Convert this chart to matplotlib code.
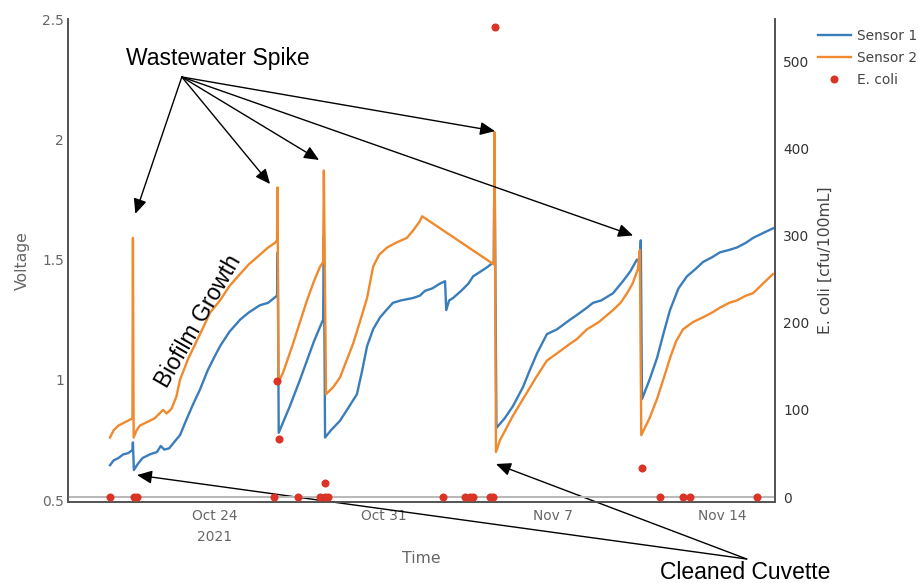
"""Sensor voltage vs. E. coli counts over the Oct/Nov 2021 deployment."""
import numpy as np
import pandas as pd
import matplotlib
matplotlib.use("Agg")
import matplotlib.pyplot as plt

T0 = pd.Timestamp("2021-10-24")

# days since Oct 24 2021 / voltage
s1_days = [-4.35, -4.2, -4.0, -3.8, -3.6, -3.42, -3.40, -3.36, -3.2, -3.0, -2.7, -2.4, -2.25, -2.1,
           -1.9, -1.7, -1.45, -1.16, -0.9, -0.62, -0.3, 0.0, 0.21, 0.6, 1.04, 1.4, 1.86, 2.2, 2.45,
           2.57, 2.60, 2.64, 3.1, 3.52, 3.81, 4.1, 4.35, 4.48, 4.51, 4.56, 4.8, 5.18, 5.5, 5.88,
           6.1, 6.30, 6.55, 6.84, 7.1, 7.37, 7.7, 7.95, 8.2, 8.49, 8.7, 9.0, 9.32, 9.53, 9.58,
           9.7, 9.86, 10.2, 10.5, 10.69, 11.0, 11.3, 11.55, 11.58, 11.66, 12.0, 12.34, 12.76,
           13.0, 13.34, 13.75, 14.17, 14.71, 15.0, 15.41, 15.66, 16.0, 16.49, 16.90, 17.2, 17.48,
           17.60, 17.64, 17.69, 18.0, 18.31, 18.6, 18.85, 19.2, 19.55, 19.9, 20.22, 20.6, 20.92,
           21.3, 21.62, 22.0, 22.29, 22.7, 23.12]
s1_volts = [0.645, 0.665, 0.675, 0.69, 0.695, 0.708, 0.74, 0.625, 0.65, 0.675, 0.69, 0.70, 0.725,
            0.71, 0.715, 0.74, 0.77, 0.84, 0.90, 0.96, 1.04, 1.10, 1.14, 1.20, 1.25, 1.28, 1.31,
            1.32, 1.34, 1.35, 1.53, 0.78, 0.89, 1.00, 1.08, 1.16, 1.22, 1.25, 1.60, 0.76, 0.79,
            0.83, 0.88, 0.94, 1.04, 1.14, 1.21, 1.26, 1.29, 1.32, 1.33, 1.335, 1.34, 1.35, 1.37,
            1.38, 1.40, 1.41, 1.29, 1.33, 1.34, 1.37, 1.40, 1.43, 1.45, 1.47, 1.49, 1.95, 0.80,
            0.84, 0.89, 0.97, 1.03, 1.11, 1.19, 1.21, 1.25, 1.27, 1.30, 1.32, 1.33, 1.36, 1.41,
            1.45, 1.50, 1.49, 1.58, 0.92, 1.00, 1.09, 1.20, 1.29, 1.38, 1.43, 1.46, 1.49, 1.51,
            1.53, 1.54, 1.55, 1.57, 1.59, 1.61, 1.63]

s2_days = [-4.35, -4.2, -4.0, -3.7, -3.42, -3.40, -3.37, -3.25, -3.11, -2.8, -2.5, -2.3, -2.15,
           -2.0, -1.8, -1.6, -1.45, -1.1, -0.62, -0.2, 0.21, 0.6, 1.04, 1.4, 1.86, 2.2, 2.49, 2.57,
           2.59, 2.63, 2.82, 3.2, 3.52, 3.81, 4.1, 4.35, 4.48, 4.51, 4.60, 4.9, 5.18, 5.72, 6.0,
           6.30, 6.55, 6.8, 7.13, 7.5, 7.95, 8.2, 8.49, 8.58, 11.55, 11.58, 11.64, 11.81, 12.34,
           12.76, 13.3, 13.75, 14.17, 14.71, 15.0, 15.41, 15.9, 16.49, 16.8, 17.07, 17.3, 17.52,
           17.60, 17.66, 18.0, 18.31, 18.6, 18.85, 19.1, 19.39, 19.8, 20.22, 20.6, 20.92, 21.3,
           21.62, 22.0, 22.29, 22.7, 23.12]
s2_volts = [0.76, 0.79, 0.81, 0.825, 0.84, 1.59, 0.76, 0.79, 0.81, 0.825, 0.84, 0.86, 0.875, 0.86,
            0.88, 0.93, 1.00, 1.09, 1.19, 1.28, 1.33, 1.39, 1.44, 1.48, 1.52, 1.55, 1.57, 1.58,
            1.80, 0.99, 1.03, 1.14, 1.24, 1.33, 1.41, 1.47, 1.49, 1.87, 0.94, 0.97, 1.01, 1.15,
            1.24, 1.34, 1.47, 1.52, 1.55, 1.57, 1.59, 1.62, 1.66, 1.68, 1.48, 2.03, 0.70, 0.75,
            0.85, 0.92, 1.01, 1.08, 1.11, 1.15, 1.17, 1.21, 1.24, 1.29, 1.32, 1.36, 1.40, 1.46,
            1.54, 0.77, 0.84, 0.92, 1.01, 1.09, 1.16, 1.21, 1.24, 1.26, 1.28, 1.30, 1.32, 1.33,
            1.35, 1.36, 1.40, 1.44]

# grab samples, cfu/100mL
ecoli_days = [-4.35, -3.36, -3.23, 2.44, 2.57, 2.65, 3.44, 4.35, 4.56, 4.56, 4.68, 9.44, 10.36,
              10.56, 10.69, 11.39, 11.52, 11.60, 17.69, 18.43, 19.39, 19.68, 22.45]
ecoli_cfu = [0, 0, 0, 0, 133, 67, 0, 0, 0, 16, 0, 0, 0, 0, 0, 0, 0, 540, 33, 0, 0, 0, 0]

tick_days = [0, 7, 14, 21]
tick_labels = ["Oct 24\n2021", "Oct 31", "Nov 7", "Nov 14"]


def to_dates(days):
    return T0 + pd.to_timedelta(np.asarray(days, dtype=float), unit="D")


BLUE = "#3a7dbb"
ORANGE = "#ef8a2e"
RED = "#db3326"
TICK_FS = 9.9
NOTE_FONT = dict(family="Liberation Sans", fontsize=16.5, color="black")

fig = plt.figure(figsize=(9.2, 5.83), dpi=100)
ax = fig.add_axes([0.0739, 0.1389, 0.7685, 0.8285])
ax2 = ax.twinx()

l1, = ax.plot(to_dates(s1_days), s1_volts, color=BLUE, lw=1.7, label="Sensor 1")
l2, = ax.plot(to_dates(s2_days), s2_volts, color=ORANGE, lw=1.7, label="Sensor 2")
ax2.axhline(0, color="#b8b8b8", lw=1.4, zorder=1)
l3, = ax2.plot(to_dates(ecoli_days), ecoli_cfu, "o", color=RED, ms=5.8, mec="none",
               label="E. coli", zorder=3)

ax.set_xlim(to_dates([-6.09])[0], to_dates([23.2])[0])
ax.set_ylim(0.492, 2.5)
ax2.set_ylim(-5.7, 549)
ax.set_yticks([0.5, 1, 1.5, 2, 2.5])
ax.set_yticklabels(["0.5", "1", "1.5", "2", "2.5"])
ax2.set_yticks([0, 100, 200, 300, 400, 500])
ax.set_xticks(to_dates(tick_days))
ax.set_xticklabels(tick_labels, linespacing=1.6)

for a in (ax, ax2):
    a.spines["top"].set_visible(False)
    for side in ("left", "right", "bottom"):
        a.spines[side].set_color("#555555")
        a.spines[side].set_linewidth(1.3)
ax.tick_params(axis="y", length=0, pad=3, labelsize=TICK_FS, labelcolor="#666666")
ax.tick_params(axis="x", length=0, pad=5, labelsize=TICK_FS, labelcolor="#666666")
ax2.tick_params(axis="y", length=0, pad=6, labelsize=TICK_FS, labelcolor="#333333")

ax.set_ylabel("Voltage", fontsize=11.3, color="#666666", labelpad=9)
ax.set_xlabel("Time", fontsize=11.3, color="#666666", labelpad=5)
ax2.set_ylabel("E. coli [cfu/100mL]", fontsize=11.3, color="#444444", labelpad=6)

fig.legend(handles=[l1, l2, l3], loc="upper left", bbox_to_anchor=(0.88, 0.965),
           frameon=False, fontsize=TICK_FS, handlelength=2.4, handletextpad=0.45,
           labelspacing=0.6, labelcolor="#444444", borderaxespad=0.2)

# annotations
arrow = dict(arrowstyle="-|>,head_length=0.9,head_width=0.4", mutation_scale=10,
             color="black", lw=1.0, shrinkA=0, shrinkB=0)
spike_tips = [(-3.3, 1.69), (2.28, 1.814), (4.31, 1.914), (11.6, 2.034), (17.32, 1.60)]
for d, v in spike_tips:
    ax.annotate("", xy=(to_dates([d])[0], v), xytext=(0.161, 0.880),
                textcoords="axes fraction", arrowprops=arrow, annotation_clip=False)
ax.text(0.212, 0.919, "Wastewater Spike", transform=ax.transAxes, ha="center", va="center",
        **NOTE_FONT)

clean_tips = [(-3.23, 0.604), (11.64, 0.65)]
for d, v in clean_tips:
    ax.annotate("", xy=(to_dates([d])[0], v), xytext=(0.960, -0.118),
                textcoords="axes fraction", arrowprops=arrow, annotation_clip=False)
ax.text(0.958, -0.145, "Cleaned Cuvette", transform=ax.transAxes, ha="center", va="center",
        **NOTE_FONT)

ax.text(0.185, 0.375, "Biofilm Growth", transform=ax.transAxes, ha="center", va="center",
        rotation=60, rotation_mode="anchor", **NOTE_FONT)

fig.savefig("out.png", dpi=100)
